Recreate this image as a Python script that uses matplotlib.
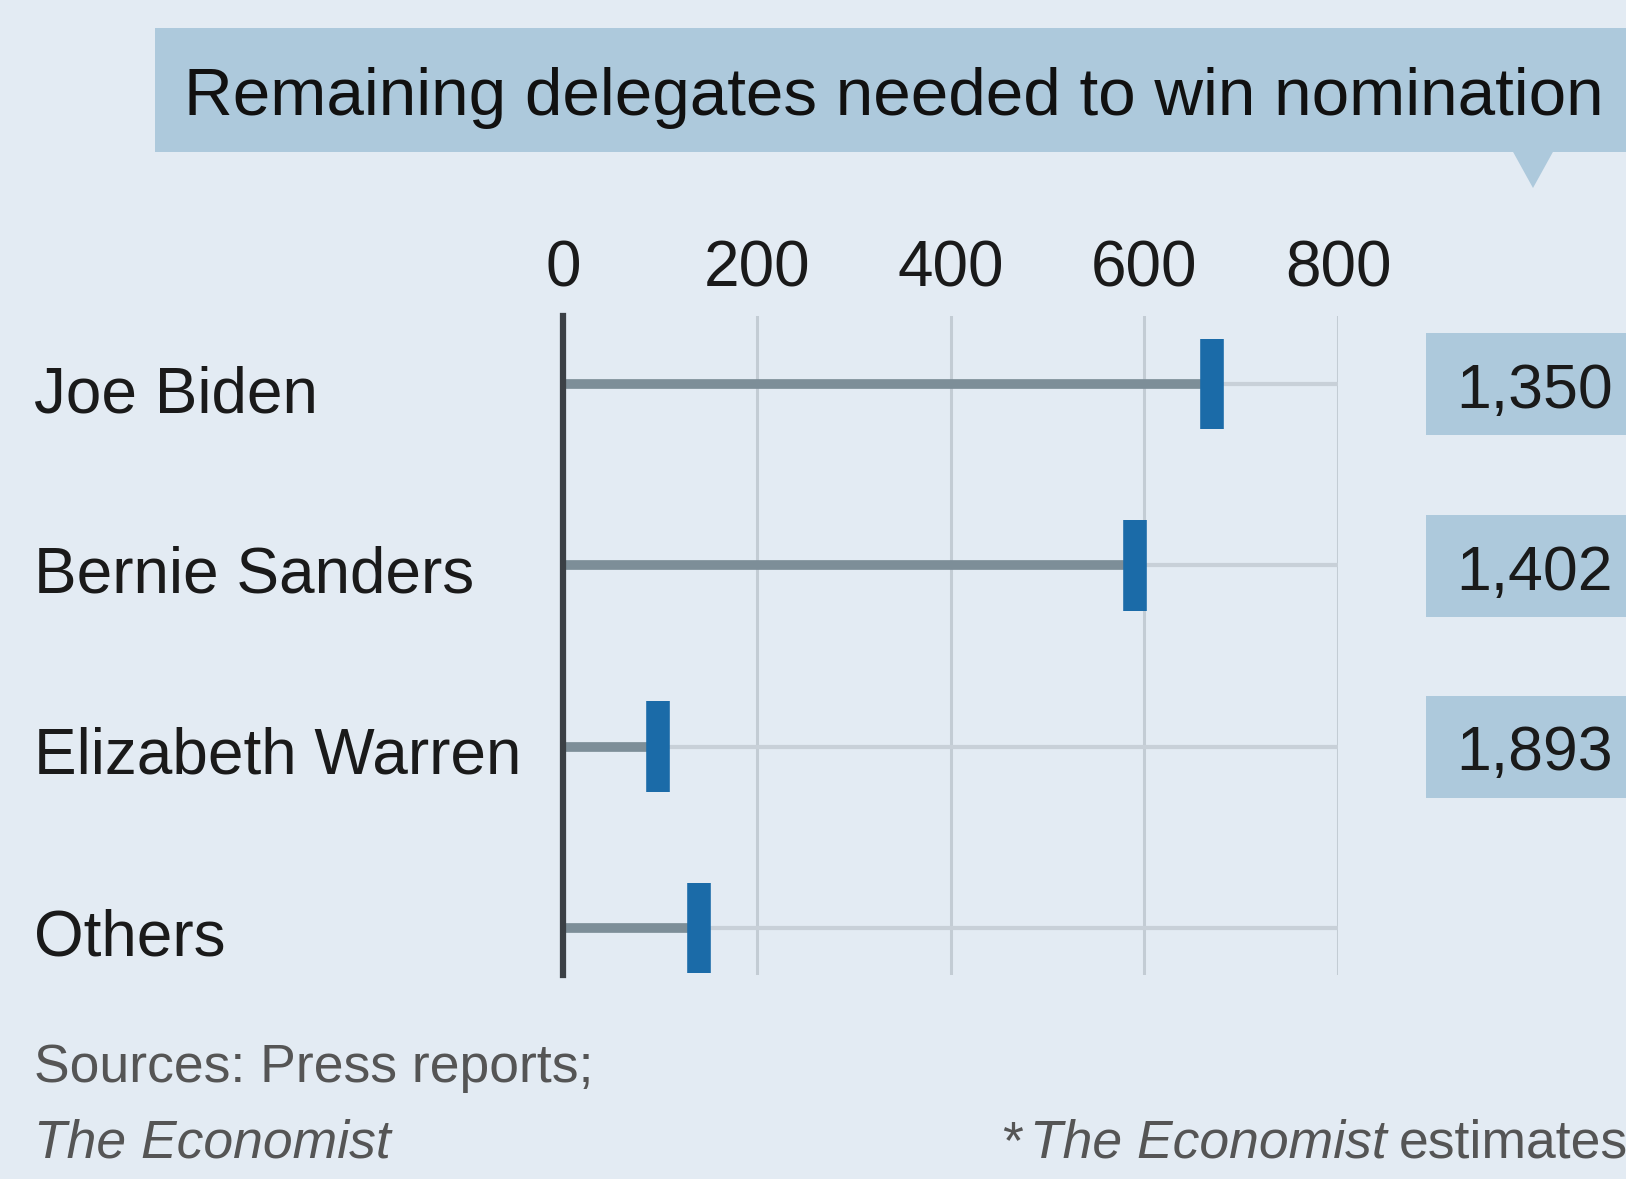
import matplotlib
matplotlib.use('Agg')
import matplotlib.pyplot as plt
import matplotlib.patches as mpatches

# 数据
candidates = ['Joe Biden', 'Bernie Sanders', 'Elizabeth Warren', 'Others']
delegates = [670, 590, 98, 140]
still_needed = ['1,350', '1,402', '1,893']
x_ticks = [0, 200, 400, 600, 800]

plt.rcParams['font.family'] = ['Liberation Sans', 'DejaVu Sans']

W, H = 1626, 1179
bg = '#e3ebf3'
band = '#adc9dc'
fig = plt.figure(figsize=(W / 100, H / 100), dpi=100, facecolor=bg)
renderer = fig.canvas.get_renderer()


def fx(px):
    return px / W


def fy(py):
    return 1 - py / H


def fit(t, width_px):
    # 按参考图的文字宽度缩放字号
    bb = t.get_window_extent(renderer)
    t.set_fontsize(t.get_fontsize() * width_px / bb.width)
    return t


# 标题条
fig.patches.append(mpatches.Rectangle((fx(155), fy(152)), fx(1480), 124 / H,
                                      transform=fig.transFigure, facecolor=band, edgecolor='none'))
fig.patches.append(mpatches.Polygon([(fx(1512), fy(150)), (fx(1554), fy(150)), (fx(1533), fy(188))],
                                    closed=True, transform=fig.transFigure, facecolor=band, edgecolor='none'))
title = fig.text(fx(184), fy(98), 'Remaining delegates needed to win nomination', fontsize=50,
                 va='center', ha='left', color='#111111')
fit(title, 1422)

# 主图
ax = fig.add_axes([fx(563), fy(975), fx(1338 - 563), (975 - 316) / H])
ax.set_facecolor('none')
ypos = list(range(len(candidates)))
ax.set_xlim(0, 800)
ax.set_ylim(3.26, -0.376)

for x in x_ticks[1:]:
    ax.axvline(x, color='#c3ccd4', lw=2.2, zorder=1)
ax.hlines(ypos, delegates, 800, color='#c8d0d8', lw=3, zorder=1)
ax.hlines(ypos, 0, delegates, color='#7d8e98', lw=7, zorder=2)
ax.vlines(delegates, [y - 0.25 for y in ypos], [y + 0.25 for y in ypos],
          color='#1b6ba8', lw=17, zorder=3)

for s in ['top', 'right', 'bottom']:
    ax.spines[s].set_visible(False)
ax.spines['left'].set_color('#3b4045')
ax.spines['left'].set_linewidth(4.5)
ax.spines['left'].set_zorder(4)

ax.xaxis.tick_top()
ax.set_xticks(x_ticks)
ax.set_xticklabels([str(t) for t in x_ticks], fontsize=46, color='#1a1a1a')
ax.tick_params(axis='x', length=0, pad=12)
ax.set_yticks(ypos)
ax.set_yticklabels([])
ax.tick_params(axis='y', length=0)

# 候选人名字
for name, y in zip(candidates, [395, 576, 757, 938]):
    fig.text(fx(34), fy(y), name, fontsize=46, va='center', ha='left', color='#1a1a1a')

# 右侧数值框
for val, y in zip(still_needed, [384, 566, 747]):
    fig.patches.append(mpatches.Rectangle((fx(1426), fy(y + 51)), fx(210), 102 / H,
                                          transform=fig.transFigure, facecolor=band, edgecolor='none'))
    fig.text(fx(1456), fy(y + 7), val, fontsize=45, va='center', ha='left', color='#1a1a1a')

# 脚注
grey = '#555555'
fs = 38.5
fig.text(fx(34), fy(1068), 'Sources: Press reports;', fontsize=fs, va='center', ha='left', color=grey)
fig.text(fx(34), fy(1144), 'The Economist', fontsize=fs, va='center', ha='left', color=grey, style='italic')
fig.text(fx(1002), fy(1144), '*', fontsize=fs, va='center', ha='left', color=grey)
it = fig.text(fx(1030), fy(1144), 'The Economist', fontsize=fs, va='center', ha='left', color=grey, style='italic')
x_end = it.get_window_extent(renderer).x1
fig.text(x_end / W + fx(12), fy(1144), 'estimates', fontsize=fs, va='center', ha='left', color=grey)

plt.savefig('out.png', dpi=100, facecolor=bg)
